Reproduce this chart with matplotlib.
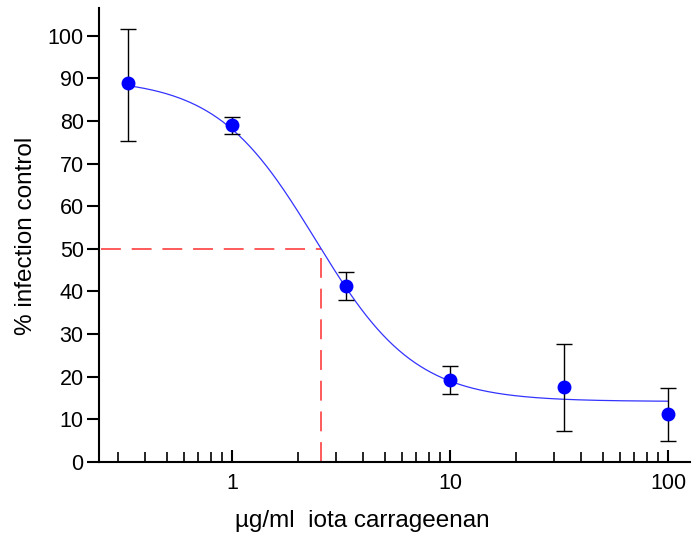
import numpy as np
import matplotlib
matplotlib.use("Agg")
import matplotlib.pyplot as plt

plt.rcParams['font.family'] = ['Liberation Sans', 'DejaVu Sans']

# Data
conc = [0.333, 1.0, 3.33, 10.0, 33.3, 100.0]
infection = [88.8, 79.0, 41.3, 19.3, 17.6, 11.3]
err_low = [13.5, 2.0, 3.3, 3.3, 10.3, 6.3]
err_high = [12.8, 2.0, 3.2, 3.3, 10.1, 6.0]

# 4-parameter logistic fit parameters
fit_top = 90.0
fit_bottom = 14.2
fit_ec = 2.415
fit_hill = 1.9
ic50 = 2.56
half_level = 50

xlabel = "\u00b5g/ml  iota carrageenan"
ylabel = "% infection control"

fig = plt.figure(figsize=(6.92, 5.34), dpi=100)
ax = fig.add_axes([99/692, 72/534, 591/692, 454/534])

xc = np.logspace(np.log10(conc[0]), np.log10(conc[-1]), 400)
yc = fit_bottom + (fit_top - fit_bottom) / (1 + (xc / fit_ec) ** fit_hill)
ax.plot(xc, yc, color='#3333ff', lw=0.9, zorder=3)

ax.plot([0.25, ic50], [half_level, half_level], color='#ff4d4d', lw=1.3,
        dashes=(11, 6), zorder=2)
ax.plot([ic50, ic50], [0, half_level], color='#ff4d4d', lw=1.3,
        dashes=(11, 6), zorder=2)

ax.errorbar(conc, infection, yerr=[err_low, err_high], fmt='o', color='#0000ff',
            ecolor='black', elinewidth=1.0, capsize=6, capthick=1.0,
            markersize=9, zorder=4)

ax.set_xscale('log')
ax.set_xlim(0.245, 126)
ax.set_ylim(0, 106.5)
ax.set_yticks(range(0, 101, 10))
ax.set_xticks([1, 10, 100])
ax.set_xticklabels(['1', '10', '100'])
ax.xaxis.set_minor_locator(matplotlib.ticker.LogLocator(base=10, subs=np.arange(2, 10), numticks=20))
ax.xaxis.set_minor_formatter(matplotlib.ticker.NullFormatter())

for s in ['top', 'right']:
    ax.spines[s].set_visible(False)
for s in ['left', 'bottom']:
    ax.spines[s].set_linewidth(1.5)

ax.tick_params(axis='y', direction='out', length=9, width=1.5, labelsize=15.5, pad=2)
ax.tick_params(axis='x', which='major', direction='in', length=9, width=1.5, labelsize=15.5, pad=8)
ax.tick_params(axis='x', which='minor', direction='in', length=7, width=1.2)

fig.text(362/692, 1 - 521/534, xlabel, fontsize=17.5, ha='center', va='center')
fig.text(26/692, 1 - 236/534, ylabel, fontsize=17.5, ha='center', va='center',
         rotation=90)

fig.savefig('out.png', dpi=100)
